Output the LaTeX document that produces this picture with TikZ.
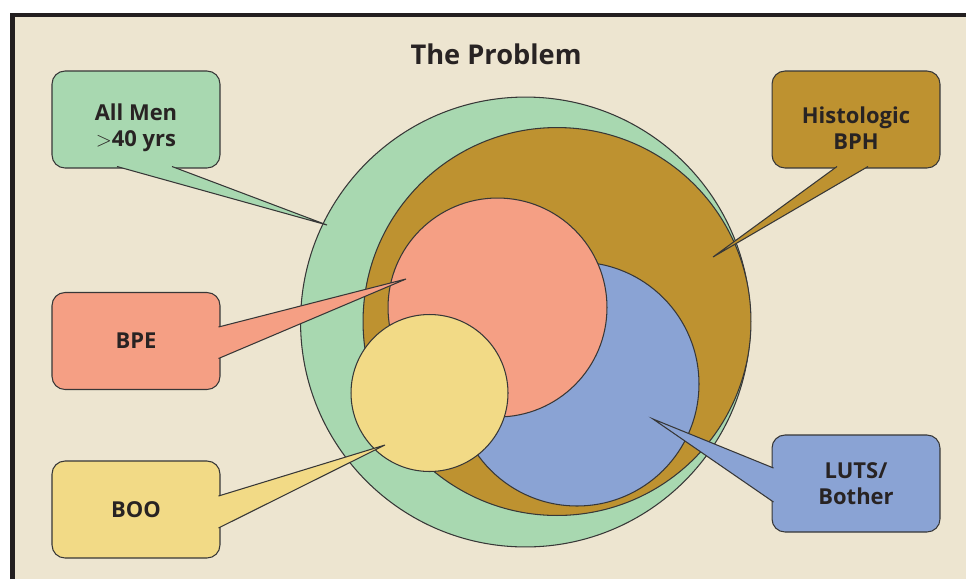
\documentclass[tikz,border=0pt]{standalone}
\usepackage{fontspec}
\setmainfont{Open Sans}
\usetikzlibrary{calc}
\definecolor{bgbeige}{RGB}{237,229,208}
\definecolor{framedark}{RGB}{35,31,32}
\definecolor{mengreen}{RGB}{168,216,176}
\definecolor{bphbrown}{RGB}{190,146,48}
\definecolor{bpesalmon}{RGB}{245,159,132}
\definecolor{lutsblue}{RGB}{138,163,212}
\definecolor{booyellow}{RGB}{242,218,134}
\definecolor{edgegray}{RGB}{55,55,55}
\definecolor{textdark}{RGB}{40,35,35}
\tikzset{set/.style={circle,draw=edgegray,line width=.6pt,inner sep=0pt},
 callout/.style={draw=edgegray,line width=.6pt,rounded corners=.26cm,
  minimum width=3.36cm,minimum height=1.94cm,align=center,text=textdark,
  font=\fontsize{12.5}{14.8}\selectfont\bfseries},
 lowered/.style={execute at begin node=\rule{0pt}{34pt}},
 tail/.style={draw=edgegray,line width=.6pt}}

\begin{document}
\begin{tikzpicture}[x=0.02cm,y=-0.02cm]
\useasboundingbox (0,0) rectangle (966,579);
\fill[bgbeige] (12.5,15) rectangle (966,579);
\draw[framedark,line width=2.3pt] (12.5,579)--(12.5,15)--(966,15);
\node[font=\fontsize{15.5}{18}\selectfont\bfseries,text=textdark] (title) at (496,54) {The Problem};
% nested sets
\node[set,fill=mengreen,minimum size=9cm] (allmen) at (525.5,322) {};
\node[set,fill=bphbrown,minimum size=7.76cm] (histo) at (557,321.5) {};
\node[set,fill=lutsblue,minimum size=4.88cm] (bother) at (577,384) {};
\node[set,fill=bpesalmon,minimum size=4.38cm] (enlarge) at (497.5,307.5) {};
\node[set,fill=booyellow,minimum size=3.14cm] (obstr) at (429.5,393) {};
% callout boxes
\node[callout,lowered,fill=mengreen] (men) at (136,119.5) {All Men\\$>$40 yrs};
\node[callout,lowered,fill=bphbrown] (bph) at (856,119.5) {Histologic\\BPH};
\node[callout,fill=bpesalmon] (bpe) at (136,341) {BPE};
\node[callout,fill=booyellow] (boo) at (136,509.5) {BOO};
\node[callout,fill=lutsblue] (luts) at (856,483.5) {LUTS/\\Bother};
\coordinate (men-tip) at (327,225);
\coordinate (bph-tip) at (713,257);
\coordinate (bpe-tip) at (406,279);
\coordinate (boo-tip) at (385,445);
\coordinate (luts-tip) at (653,419);
\foreach \n/\col/\ax/\ay/\bx/\by in {men/mengreen/-19/47/36/47,
  bph/bphbrown/-19/47/12/47,bpe/bpesalmon/82.5/-14/82.5/17.5,
  boo/booyellow/82.5/-13.5/82.5/18.5,luts/lutsblue/-82.5/-15.5/-82.5/18.5}
  \draw[tail,fill=\col] ($(\n)+(\ax,\ay)$)--(\n-tip)--($(\n)+(\bx,\by)$);
\end{tikzpicture}
\end{document}
